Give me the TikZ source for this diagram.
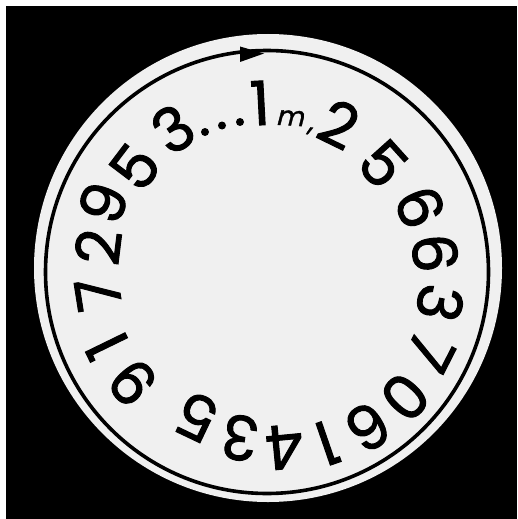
\documentclass[tikz,border=0pt]{standalone}
\usepackage{fontspec}
\newfontfamily\digfont[FakeBold=1.6]{Poppins}
\newfontfamily\mfont[FakeSlant=0.2,FakeBold=1.2]{Poppins}
\tikzset{
  dig/.style={inner sep=0pt, font=\digfont\fontsize{61}{61}\selectfont, text=black},
  sub/.style={inner sep=0pt, font=\mfont\fontsize{27}{27}\selectfont, text=black},
  ring/.style={draw=black, line width=3.6pt},
  dot/.style={fill=black}
}
\begin{document}
\begin{tikzpicture}[x=1pt, y=-1pt]
\useasboundingbox (0,0) rectangle (517,519);
\fill[white] (0,0) rectangle (517,519);
\fill[black] (6,6) rectangle (517,519);
\fill[black!6] (268,268) circle (234pt);
\coordinate (c) at (267,272);
\draw[ring] (c) circle (221.5pt);
\coordinate (tip) at (264,53.5);
\coordinate (bl) at (240,46.5);
\coordinate (br) at (240,62);
\fill[black] (tip) -- (bl) -- (br) -- cycle;
% digits
\node[dig, rotate=34]    (d1)  at (173,129) {3};
\node[dig, rotate=3]     (d2)  at (260,103) {1};
\node[dig, rotate=-26]   (d3)  at (339,124) {2};
\node[dig, rotate=-48]   (d4)  at (383,164) {5};
\node[dig, rotate=-68]   (d5)  at (420,207) {6};
\node[dig, rotate=-85]   (d6)  at (435,253) {6};
\node[dig, rotate=-101.5](d7)  at (440,303) {3};
\node[dig, rotate=-117]  (d8)  at (430,352) {7};
\node[dig, rotate=-133]  (d9)  at (405,397) {0};
\node[dig, rotate=-148]  (d10) at (368,427) {6};
\node[dig, rotate=-161]  (d11) at (327,443) {1};
\node[dig, rotate=-174.5](d12) at (285,447) {4};
\node[dig, rotate=171]   (d13) at (240,438) {3};
\node[dig, rotate=154.5] (d14) at (197,417) {5};
\node[dig, rotate=130.4] (d15) at (133,383) {9};
\node[dig, rotate=116]   (d16) at (107,346) {1};
\node[dig, rotate=99]    (d17) at (98,294)  {7};
\node[dig, rotate=83]    (d18) at (98,247)  {2};
\node[dig, rotate=68.5]  (d19) at (103,203) {9};
\node[dig, rotate=52.8]  (d20) at (135,167) {5};
% dots
\fill[dot] (205,132) circle (4pt);
\fill[dot] (222,125.5) circle (4pt);
\fill[dot] (240,122) circle (4pt);
% subscript m and comma
\node[sub, rotate=-3] (m) at (290,118) {m};
\node[sub, rotate=-8] (comma) at (310,131) {,};
\end{tikzpicture}
\end{document}
